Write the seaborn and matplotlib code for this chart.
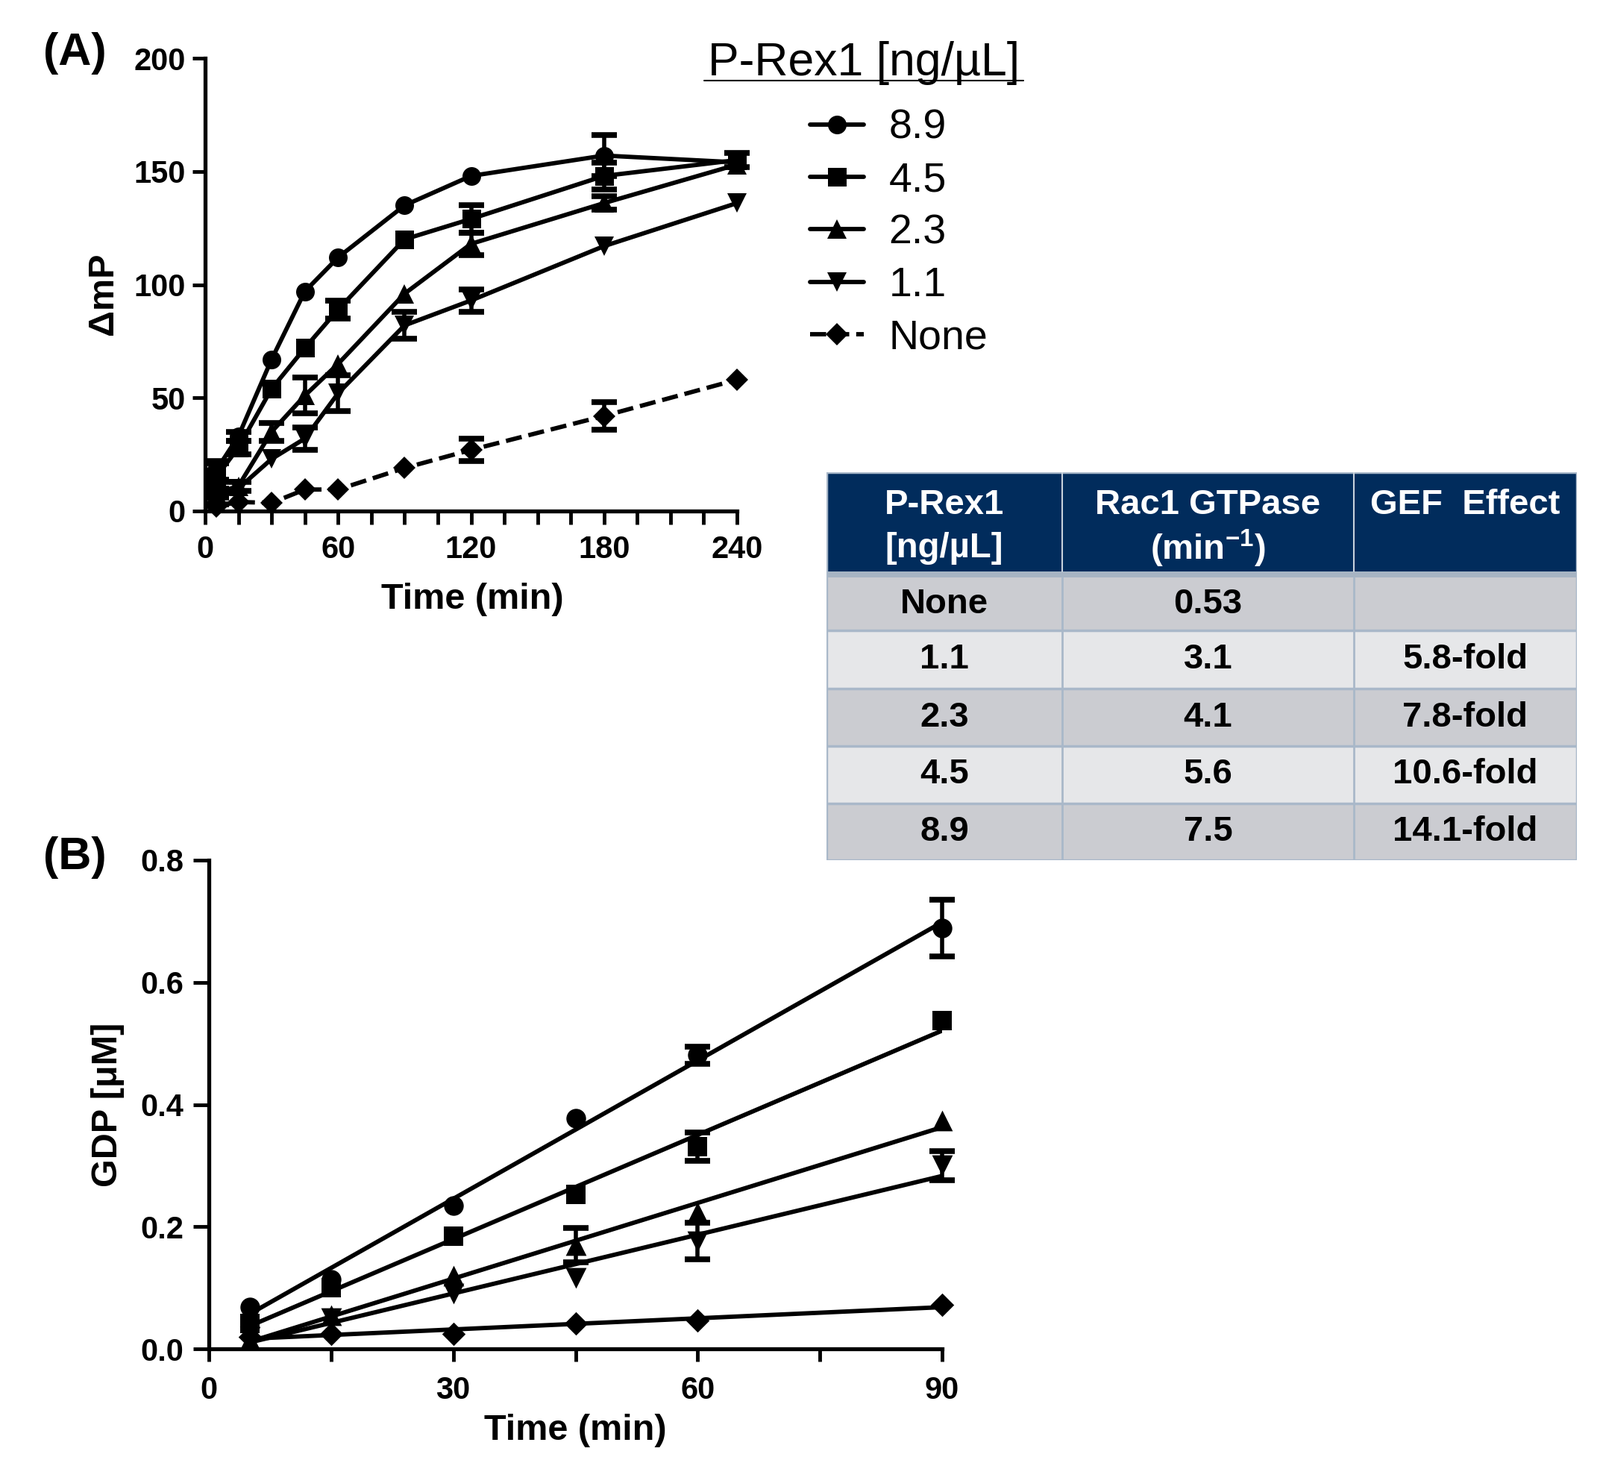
import numpy as np
import seaborn as sns
import matplotlib.pyplot as plt
from matplotlib.patches import Rectangle
from matplotlib.lines import Line2D

# data
conc = ['8.9', '4.5', '2.3', '1.1', 'None']
mark = ['o', 's', '^', 'v', 'D']
msz = [18, 18, 19, 19, 15]

# (A) delta mP vs time
times_a = [5, 15, 30, 45, 60, 90, 120, 180, 240]
a_89 = [18, 33, 67, 97, 112, 135, 148, 157, 154]
a_45 = [15, 28, 54, 72, 89, 120, 129, 148, 155]
a_23 = [8, 11, 35, 51, 65, 96, 118, 136, 153]
a_11 = [5, 10, 23, 32, 52, 82, 93, 117, 136]
a_none = [2, 4, 3.6, 9.5, 9.5, 19, 27, 42, 58]
a_89_err = [4, 2, 0, 0, 0, 0, 0, 9, 0]
a_45_err = [6, 3, 0, 0, 4, 0, 6, 6, 3]
a_23_err = [2, 2, 4, 8, 0, 0, 5, 3, 0]
a_11_err = [2, 0, 0, 5, 8, 6, 5, 0, 0]
a_none_err = [0, 0, 0, 0, 0, 0, 5, 6, 0]

# (B) GDP vs time
times_b = [5, 15, 30, 45, 60, 90]
b_89 = [0.068, 0.114, 0.234, 0.378, 0.481, 0.689]
b_45 = [0.042, 0.100, 0.184, 0.253, 0.331, 0.537]
b_23 = [0.015, 0.055, 0.120, 0.170, 0.224, 0.374]
b_11 = [0.020, 0.050, 0.090, 0.116, 0.176, 0.300]
b_none = [0.020, 0.025, 0.025, 0.042, 0.046, 0.072]
b_89_err = [0, 0, 0, 0, 0.014, 0.046]
b_45_err = [0, 0, 0, 0, 0.023, 0]
b_23_err = [0, 0, 0, 0.028, 0, 0]
b_11_err = [0, 0, 0, 0, 0.030, 0.024]
b_none_err = [0, 0, 0, 0, 0, 0]

# table
tbl_head = [['P-Rex1', '[ng/µL]'], ['Rac1 GTPase', r'(min$^{-1}$)'], ['GEF  Effect', '']]
tbl_conc = ['None', '1.1', '2.3', '4.5', '8.9']
tbl_rate = ['0.53', '3.1', '4.1', '5.6', '7.5']
tbl_gef = ['', '5.8-fold', '7.8-fold', '10.6-fold', '14.1-fold']

sns.set_theme(style='ticks')
FONT = ['Liberation Sans', 'DejaVu Sans']
plt.rcParams['font.family'] = FONT
plt.rcParams['font.weight'] = 'bold'
plt.rcParams['text.color'] = 'black'
plt.rcParams['axes.labelcolor'] = 'black'
plt.rcParams['xtick.color'] = 'black'
plt.rcParams['ytick.color'] = 'black'
plt.rcParams['mathtext.fontset'] = 'custom'
plt.rcParams['mathtext.rm'] = 'Liberation Sans:bold'
plt.rcParams['mathtext.default'] = 'rm'

W, H = 2145, 1953
fig = plt.figure(figsize=(W / 100, H / 100), dpi=100)
fig.patch.set_facecolor('white')

def box(x0, y0, x1, y1):
    # pixel coords (from top) -> figure fraction
    return [x0 / W, 1 - y1 / H, (x1 - x0) / W, (y1 - y0) / H]

axA = fig.add_axes(box(275, 78, 988, 685))
axB = fig.add_axes(box(280, 1153, 1263, 1808))

LW = 4.2
err_kw = dict(fmt='none', ecolor='black', elinewidth=4, capsize=12, capthick=5.5, clip_on=False)

# ---- panel A
a_vals = [a_89, a_45, a_23, a_11, a_none]
a_errs = [a_89_err, a_45_err, a_23_err, a_11_err, a_none_err]
for lab, y, e, m, ms in zip(conc, a_vals, a_errs, mark, msz):
    ls = '--' if lab == 'None' else '-'
    sns.lineplot(x=times_a, y=y, ax=axA, color='black', marker=m, markersize=ms,
                 mec='black', mew=0, lw=LW, linestyle=ls, label=lab, clip_on=False)
    t = np.array(times_a)
    e = np.array(e)
    y = np.array(y)
    k = e > 0
    axA.errorbar(t[k], y[k], yerr=e[k], **err_kw)

handles, labels = axA.get_legend_handles_labels()
if axA.get_legend() is not None:
    axA.get_legend().remove()

axA.set_xlim(0, 240)
axA.set_ylim(0, 200)
axA.set_xticks([0, 60, 120, 180, 240])
axA.set_xticks(np.arange(0, 241, 15), minor=True)
axA.set_yticks([0, 50, 100, 150, 200])
axA.set_xlabel('Time (min)', fontsize=35, weight='bold')
axA.set_ylabel('ΔmP', fontsize=35, weight='bold')
axA.xaxis.set_label_coords(0.502, -0.158)
axA.yaxis.set_label_coords(-0.16, 0.479)
axA.tick_params(axis='x', which='both', length=13, width=3.5, pad=10, labelsize=30)
axA.tick_params(axis='y', which='both', length=12, width=3.5, pad=7, labelsize=30)

# ---- panel B
b_vals = [b_89, b_45, b_23, b_11, b_none]
b_errs = [b_89_err, b_45_err, b_23_err, b_11_err, b_none_err]
for lab, y, e, m, ms in zip(conc, b_vals, b_errs, mark, msz):
    t = np.array(times_b, dtype=float)
    y = np.array(y)
    e = np.array(e)
    sns.regplot(x=t, y=y, ax=axB, ci=None, color='black', marker=m, truncate=True,
                scatter_kws={'s': (ms + 1) ** 2, 'linewidths': 0, 'alpha': 1, 'clip_on': False},
                line_kws={'lw': LW})
    k = e > 0
    axB.errorbar(t[k], y[k], yerr=e[k], **err_kw)

axB.set_xlim(0, 90)
axB.set_ylim(0, 0.8)
axB.set_xticks([0, 30, 60, 90])
axB.set_xticks(np.arange(0, 91, 15), minor=True)
axB.set_yticks([0, 0.2, 0.4, 0.6, 0.8])
axB.set_yticklabels(['0.0', '0.2', '0.4', '0.6', '0.8'])
axB.set_xlabel('Time (min)', fontsize=35, weight='bold')
axB.set_ylabel('GDP [μM]', fontsize=35, weight='bold')
# the reference crops this label at the page edge; keep it just inside
axB.xaxis.set_label_coords(0.5, -0.133)
axB.yaxis.set_label_coords(-0.115, 0.499)
axB.tick_params(axis='x', which='both', length=12, width=3.5, pad=14, labelsize=30)
axB.tick_params(axis='y', which='both', length=15, width=3.5, pad=9, labelsize=30)

for ax in (axA, axB):
    sns.despine(ax=ax)
    for s in ('left', 'bottom'):
        ax.spines[s].set_linewidth(3.8)
        ax.spines[s].set_color('black')

# panel letters
fig.text(100 / W, 1 - 72 / H, '(A)', fontsize=44, weight='bold', ha='center', va='center')
fig.text(100 / W, 1 - 1150 / H, '(B)', fontsize=44, weight='bold', ha='center', va='center')

# legend with underlined title
fig.text(1158 / W, 1 - 85 / H, 'P-Rex1 [ng/µL]', fontsize=45, weight='normal',
         ha='center', va='center')
fig.add_artist(Line2D([944 / W, 1372 / W], [1 - 108 / H] * 2, color='black', lw=1.5,
                      transform=fig.transFigure))
fig.legend(handles, labels, loc='upper left', bbox_to_anchor=(1086 / W, 1 - 146 / H),
           frameon=False, prop={'family': FONT, 'weight': 'normal', 'size': 40},
           handlelength=1.3, handletextpad=0.6, labelspacing=0.33,
           borderpad=0, borderaxespad=0)

# ---- table
axT = fig.add_axes(box(1108, 633, 2114, 1153))
axT.set_xlim(0, 1006)
axT.set_ylim(520, 0)
axT.axis('off')
navy = '#012c5c'
row_cols = ['#cbccd1', '#e6e7e9']
edge = '#a9b8c9'
col_x = [0, 316, 707, 1006]
row_y = [141, 212, 290, 367, 444, 520]

axT.add_patch(Rectangle((0, 0), 1006, 133, color=navy, lw=0))
axT.add_patch(Rectangle((0, 133), 1006, 8, color='#a7b4c3', lw=0))
for i in range(5):
    axT.add_patch(Rectangle((0, row_y[i]), 1006, row_y[i + 1] - row_y[i],
                            color=row_cols[i % 2], lw=0))
for y in row_y[1:-1]:
    axT.plot([0, 1006], [y, y], color=edge, lw=2.5)
for x in col_x[1:-1]:
    axT.plot([x, x], [0, 133], color='#c9d2dc', lw=1.5)
    axT.plot([x, x], [141, 520], color=edge, lw=2)
axT.add_patch(Rectangle((0, 0), 1006, 520, fill=False, ec=edge, lw=2.5))

cx = [(col_x[i] + col_x[i + 1]) / 2 for i in range(3)]
for c, (l1, l2) in zip(cx, tbl_head):
    axT.text(c, 44, l1, color='white', fontsize=34, weight='bold', ha='center', va='center')
    if l2:
        axT.text(c, 102, l2, color='white', fontsize=34, weight='bold', ha='center', va='center')
for i in range(5):
    cy = (row_y[i] + row_y[i + 1]) / 2
    for c, txt in zip(cx, [tbl_conc[i], tbl_rate[i], tbl_gef[i]]):
        axT.text(c, cy, txt, color='black', fontsize=34, weight='bold', ha='center', va='center')

fig.savefig('out.png', dpi=100)
